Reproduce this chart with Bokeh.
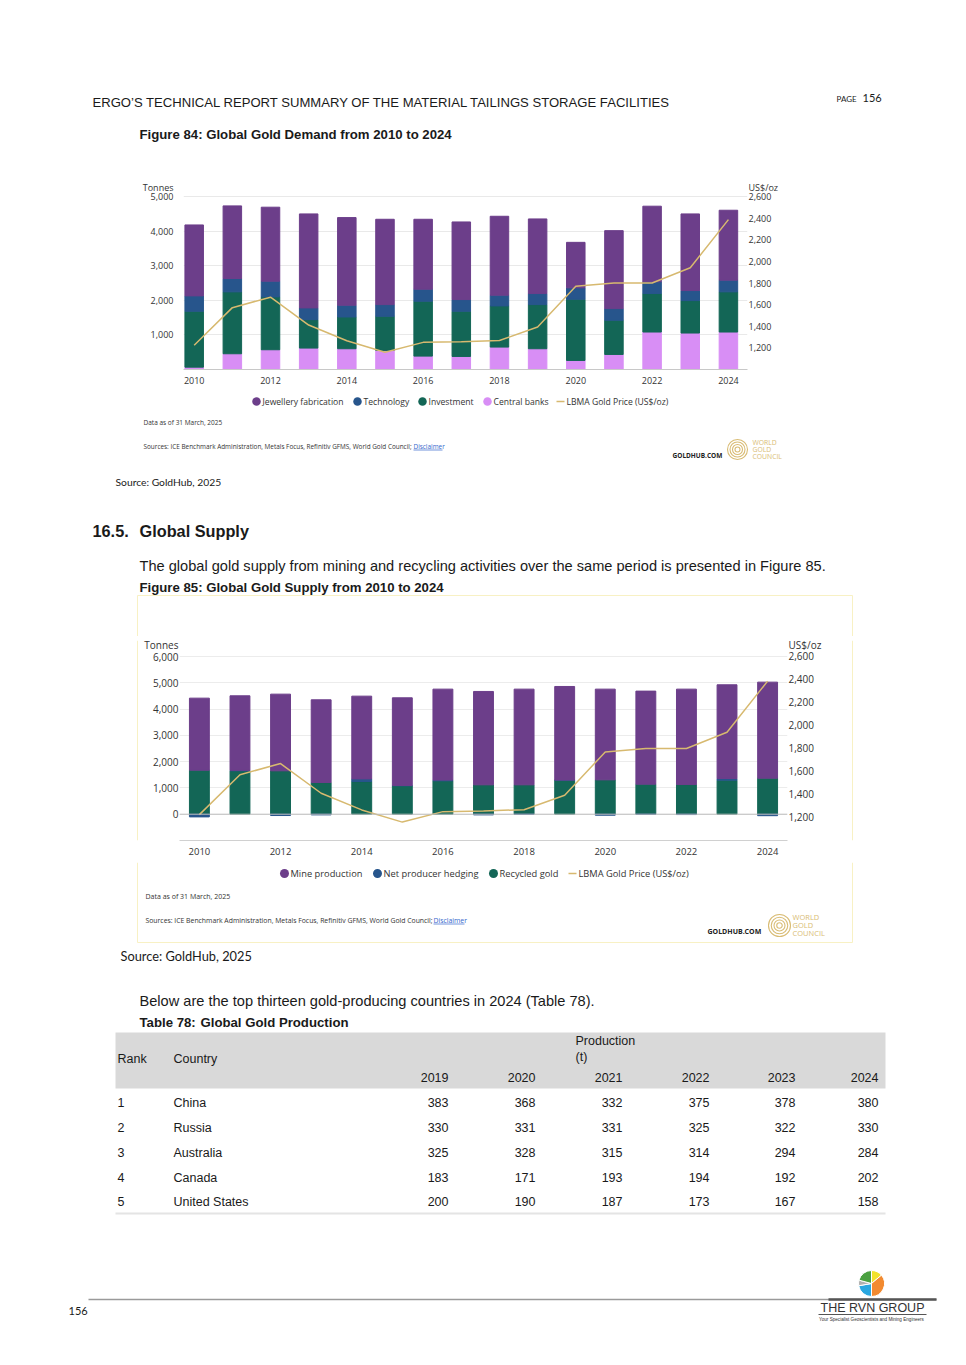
import numpy as np
from bokeh.plotting import figure
from bokeh.models import (Range1d, LinearAxis, FixedTicker, NumeralTickFormatter,
                          Label, Span, ColumnDataSource)
from bokeh.layouts import column, row
from bokeh.embed import file_html
from bokeh.resources import INLINE

# ---------------- data ----------------
years = list(range(2010, 2025))
year_ticks = [2010, 2012, 2014, 2016, 2018, 2020, 2022, 2024]

# Figure 84 - demand (tonnes)
jewellery = [2050, 2099, 2138, 2717, 2534, 2466, 2021, 2244, 2282, 2157, 1315, 2254, 2186, 2215, 2021]
technology = [445, 386, 454, 339, 339, 338, 348, 338, 309, 319, 329, 338, 339, 290, 338]
investment = [1615, 1789, 1528, 822, 918, 987, 1586, 1306, 1190, 1276, 1770, 987, 1112, 938, 1161]
central_banks = [68, 455, 571, 619, 600, 551, 387, 377, 648, 600, 261, 435, 1083, 1054, 1083]
# LBMA gold price (US$/oz)
lbma_price = [1225, 1572, 1669, 1411, 1266, 1160, 1251, 1257, 1268, 1393, 1770, 1799, 1800, 1941, 2386]

# Figure 85 - supply (tonnes)
mine_production = [2741, 2835, 2918, 3147, 3148, 3335, 3460, 3553, 3642, 3561, 3452, 3541, 3630, 3565, 3655]
net_hedging = [-102, 20, -50, -25, 100, 15, 30, -25, -10, 5, -38, -5, -13, 65, -56]
recycled_gold = [1675, 1650, 1650, 1206, 1244, 1079, 1269, 1117, 1117, 1294, 1307, 1142, 1129, 1294, 1370]

demand_left_ticks = [1000, 2000, 3000, 4000, 5000]
supply_left_ticks = [0, 1000, 2000, 3000, 4000, 5000, 6000]
price_ticks = [1200, 1400, 1600, 1800, 2000, 2200, 2400, 2600]
left_unit = "Tonnes"
right_unit = "US$/oz"

# Table 78
table_years = ["2019", "2020", "2021", "2022", "2023", "2024"]
table_rank = ["1", "2", "3", "4", "5"]
table_country = ["China", "Russia", "Australia", "Canada", "United States"]
prod_2019 = [383, 330, 325, 183, 200]
prod_2020 = [368, 331, 328, 171, 190]
prod_2021 = [332, 331, 315, 193, 187]
prod_2022 = [375, 325, 314, 194, 173]
prod_2023 = [378, 322, 294, 192, 167]
prod_2024 = [380, 330, 284, 202, 158]

# ---------------- style ----------------
JEW = "#6c3e8a"
TECH = "#27558c"
INV = "#136656"
CB = "#d88ef5"
GOLD = "#d7b96f"
WGC = "#d9bc74"
YEL = "#f8f1c4"
SANS = "Liberation Sans"
OS = "Open Sans"
TXT = "#1a1a1a"
CHT = "#333333"
W = 966


def page_fig(y0, y1, x0=0, x1=W):
    p = figure(width=int(x1 - x0), height=int(y1 - y0),
               x_range=Range1d(x0, x1), y_range=Range1d(y1, y0),
               output_backend="svg", toolbar_location=None,
               x_axis_type=None, y_axis_type=None, min_border=0,
               outline_line_color=None, background_fill_color="white",
               border_fill_color="white")
    return p


def txt(p, x, y, s, size, font=SANS, color=TXT, bold=False, align="left", baseline="middle"):
    p.add_layout(Label(x=x, y=y, text=s, text_font=font, text_font_size=f"{size}px",
                       text_color=color, text_font_style="bold" if bold else "normal",
                       text_align=align, text_baseline=baseline))


def style_axis(ax, size, standoff):
    ax.major_label_text_font = OS
    ax.major_label_text_font_size = size
    ax.major_label_text_color = CHT
    ax.major_tick_line_color = None
    ax.minor_tick_line_color = None
    ax.major_tick_out = 0
    ax.major_tick_in = 0
    ax.minor_tick_out = 0
    ax.minor_tick_in = 0
    ax.major_label_standoff = standoff
    ax.axis_line_color = None


def unit_axis(ax, ticks, unit_pos, unit_text):
    # value axis whose top-most label carries the unit name
    ax.ticker = FixedTicker(ticks=ticks + [unit_pos])
    ax.formatter = NumeralTickFormatter(format="0,0")
    ax.major_label_overrides = {unit_pos: unit_text}


def legend_item(p, x, y, color, label, size, dot, line=False):
    if line:
        p.segment(x0=[x - 4], y0=[y], x1=[x + 4], y1=[y], line_color=GOLD, line_width=1.5)
    else:
        p.scatter([x], [y], size=dot, fill_color=color, line_color=None)
    txt(p, x + 6, y, label, size, font=OS, color=CHT)


def wgc_logo(p, cx, cy, r, tx, ty, dy, size):
    p.circle(x=[cx] * 4, y=[cy] * 4, radius=[r * 0.25, r * 0.5, r * 0.75, r],
             fill_color=None, line_color=WGC, line_width=1.1)
    for i, w in enumerate(["WORLD", "GOLD", "COUNCIL"]):
        txt(p, tx, ty + i * dy, w, size, font=OS, color=WGC)


# ---------------- T0: header (y 0..180) ----------------
t0 = page_fig(0, 180)
txt(t0, 92, 102, "ERGO\u2019S TECHNICAL REPORT SUMMARY OF THE MATERIAL TAILINGS STORAGE FACILITIES", 13.1)
txt(t0, 836, 98.5, "PAGE", 8, font="Lato")
txt(t0, 862, 97.5, "156", 11, font="Lato")
txt(t0, 139, 134, "Figure 84:  Global Gold Demand from 2010 to 2024", 13.2, bold=True)

# ---------------- C1: demand chart (y 180..392) ----------------
# frame y 182..369 ; 5000 t at y 196 ; 0 at y 369
c1 = figure(width=W, height=212, x_range=Range1d(2009.72, 2024.5), y_range=Range1d(0, 5405),
            output_backend="svg", toolbar_location=None,
            min_border_left=183, min_border_right=W - 747, min_border_top=2, min_border_bottom=23,
            outline_line_color=None, background_fill_color="white", border_fill_color="white")
c1.extra_y_ranges = {"price": Range1d(1000, 2729.5)}
src1 = ColumnDataSource(dict(year=years, cb=central_banks, inv=investment,
                             tech=technology, jew=jewellery))
c1.vbar_stack(["cb", "inv", "tech", "jew"], x="year", width=0.485, source=src1,
              color=[CB, INV, TECH, JEW])
c1.line(years, lbma_price, y_range_name="price", line_color=GOLD, line_width=1.5)
style_axis(c1.yaxis[0], "9px", 10)
unit_axis(c1.yaxis[0], demand_left_ticks, 5289, left_unit)
c1.ygrid[0].ticker = FixedTicker(ticks=demand_left_ticks)
c1.ygrid[0].grid_line_color = "#e9e9e9"
c1.xgrid[0].visible = False
style_axis(c1.xaxis[0], "9px", 7)
c1.xaxis[0].ticker = FixedTicker(ticks=year_ticks)
c1.xaxis[0].axis_line_color = "#c8c8c8"
ra1 = LinearAxis(y_range_name="price")
style_axis(ra1, "9px", 1)
unit_axis(ra1, price_ticks, 2692, right_unit)
c1.add_layout(ra1, "right")

# ---------------- T1 (y 392..636) ----------------
t1 = page_fig(392, 636)
ly = 401
legend_item(t1, 256, ly, JEW, "Jewellery fabrication", 8.6, 8.5)
legend_item(t1, 357, ly, TECH, "Technology", 8.6, 8.5)
legend_item(t1, 422, ly, INV, "Investment", 8.6, 8.5)
legend_item(t1, 487, ly, CB, "Central banks", 8.6, 8.5)
legend_item(t1, 560, ly, GOLD, "LBMA Gold Price (US$/oz)", 8.6, 8.5, line=True)
txt(t1, 143, 422, "Data as of 31 March, 2025", 6.5, font=OS, color=CHT)
txt(t1, 143, 446, "Sources: ICE Benchmark Administration, Metals Focus, Refinitiv GFMS, World Gold Council;", 6.4, font=OS, color=CHT)
txt(t1, 413, 446, "Disclaimer", 6.4, font=OS, color="#3366cc")
t1.segment(x0=[413], y0=[449.5], x1=[442], y1=[449.5], line_color="#3366cc", line_width=0.7)
txt(t1, 672, 455, "GOLDHUB.COM", 6.5, font=OS, color="#222222", bold=True)
wgc_logo(t1, 737, 449, 10, 752, 441.5, 7, 6.8)
txt(t1, 115, 481, "Source: GoldHub, 2025", 10.3, font="Lato", color=TXT)
txt(t1, 92, 530, "16.5.", 16.3, bold=True)
txt(t1, 139, 530, "Global Supply", 16.3, bold=True)
txt(t1, 139, 565, "The global gold supply from mining and recycling activities over the same period is presented in Figure 85.", 14.6)
txt(t1, 139, 587, "Figure 85:  Global Gold Supply from 2010 to 2024", 13.2, bold=True)
t1.segment(x0=[137, 137, 852], y0=[595, 595, 595], x1=[852, 137, 852], y1=[595, 636, 636],
           line_color=YEL, line_width=1)

# ---------------- C2: supply chart in a row with side strips (y 636..862) ----------------
# frame y 640..840 ; 6000 t at y 656 ; -1000 at y 840
c2 = figure(width=713, height=226, x_range=Range1d(2009.51, 2024.49), y_range=Range1d(-1000, 6609),
            output_backend="svg", toolbar_location=None,
            min_border_left=41, min_border_right=64, min_border_top=4, min_border_bottom=22,
            outline_line_color=None, background_fill_color="white", border_fill_color="white")
c2.extra_y_ranges = {"price": Range1d(1000, 2739)}
rec = np.array(recycled_gold, dtype=float)
hed = np.array(net_hedging, dtype=float)
mine = np.array(mine_production, dtype=float)
hed_bottom = np.where(hed > 0, rec, hed)
hed_top = np.where(hed > 0, rec + hed, 0)
mine_bottom = rec + np.maximum(hed, 0)
src2 = ColumnDataSource(dict(year=years, rec=rec, hb=hed_bottom, ht=hed_top,
                             mb=mine_bottom, mt=mine_bottom + mine))
c2.vbar(x="year", bottom=0, top="rec", width=0.49, source=src2, color=INV)
c2.vbar(x="year", bottom="hb", top="ht", width=0.49, source=src2, color=TECH)
c2.vbar(x="year", bottom="mb", top="mt", width=0.49, source=src2, color=JEW)
c2.add_layout(Span(location=0, dimension="width", line_color="#bdbdbd", line_width=1))
c2.line(years, lbma_price, y_range_name="price", line_color=GOLD, line_width=1.5)
style_axis(c2.yaxis[0], "10px", 1)
unit_axis(c2.yaxis[0], supply_left_ticks, 6419, left_unit)
c2.ygrid[0].ticker = FixedTicker(ticks=supply_left_ticks)
c2.ygrid[0].grid_line_color = "#ececec"
c2.xgrid[0].visible = False
style_axis(c2.xaxis[0], "9.5px", 7)
c2.xaxis[0].ticker = FixedTicker(ticks=year_ticks)
c2.xaxis[0].axis_line_color = "#d0d0d0"
ra2 = LinearAxis(y_range_name="price")
style_axis(ra2, "10px", 1)
unit_axis(ra2, price_ticks, 2696, right_unit)
c2.add_layout(ra2, "right")

l2 = page_fig(636, 862, 0, 138)
l2.segment(x0=[137], y0=[636], x1=[137], y1=[862], line_color=YEL, line_width=1)
r2 = page_fig(636, 862, 851, W)
r2.segment(x0=[852], y0=[636], x1=[852], y1=[862], line_color=YEL, line_width=1)

# ---------------- T2 (y 862..1365) ----------------
t2 = page_fig(862, 1365)
t2.segment(x0=[137, 852, 137], y0=[862, 862, 942], x1=[137, 852, 852], y1=[942, 942, 942],
           line_color=YEL, line_width=1)
ly2 = 873
legend_item(t2, 284, ly2, JEW, "Mine production", 9.3, 9)
legend_item(t2, 377, ly2, TECH, "Net producer hedging", 9.3, 9)
legend_item(t2, 493, ly2, INV, "Recycled gold", 9.3, 9)
legend_item(t2, 572, ly2, GOLD, "LBMA Gold Price (US$/oz)", 9.3, 9, line=True)
txt(t2, 145, 896, "Data as of 31 March, 2025", 7, font=OS, color=CHT)
txt(t2, 145, 920, "Sources: ICE Benchmark Administration, Metals Focus, Refinitiv GFMS, World Gold Council;", 6.85, font=OS, color=CHT)
txt(t2, 433, 920, "Disclaimer", 6.85, font=OS, color="#3366cc")
t2.segment(x0=[433], y0=[923.5], x1=[464], y1=[923.5], line_color="#3366cc", line_width=0.7)
txt(t2, 707, 931, "GOLDHUB.COM", 7, font=OS, color="#222222", bold=True)
wgc_logo(t2, 779, 925, 11, 792, 916, 8, 7.5)
txt(t2, 120, 955, "Source: GoldHub, 2025", 12.8, font="Lato", color=TXT)
txt(t2, 139, 1000, "Below are the top thirteen gold-producing countries in 2024 (Table 78).", 14.6)
txt(t2, 139, 1022, "Table 78:", 13.2, bold=True)
txt(t2, 200, 1022, "Global Gold Production", 13.2, bold=True)

# table
t2.quad(left=[115], right=[885], top=[1032], bottom=[1088], fill_color="#d9d9d9", line_color=None)
txt(t2, 117, 1058, "Rank", 12.5)
txt(t2, 173, 1058, "Country", 12.5)
txt(t2, 575, 1040, "Production", 12.5)
txt(t2, 575, 1056, "(t)", 12.5)
col_x = [448, 535, 622, 709, 795, 878]
for cx, yr in zip(col_x, table_years):
    txt(t2, cx, 1077, yr, 12.5, align="right")
row_y = [1102, 1127, 1152, 1177, 1201]
cols = [prod_2019, prod_2020, prod_2021, prod_2022, prod_2023, prod_2024]
for i, ry in enumerate(row_y):
    txt(t2, 117, ry, table_rank[i], 12.5)
    txt(t2, 173, ry, table_country[i], 12.5)
    for cx, colv in zip(col_x, cols):
        txt(t2, cx, ry, str(colv[i]), 12.5, align="right")
t2.segment(x0=[115], y0=[1213], x1=[885], y1=[1213], line_color="#e4e4e4", line_width=2)

# footer
t2.segment(x0=[88], y0=[1299], x1=[936], y1=[1299], line_color="#9a9a9a", line_width=1.5)
t2.segment(x0=[828], y0=[1299], x1=[936], y1=[1299], line_color="#555555", line_width=2.5)
txt(t2, 68, 1310, "156", 11, font="Lato", color=TXT)
wedges = [(40, 90, "#f2e22a"), (-90, 40, "#f28a30"), (190, 270, "#2aa7e0"),
          (165, 190, "#b0b0b0"), (90, 165, "#4aa040")]
for a0, a1, col in wedges:
    t2.wedge(x=[871], y=[1283], radius=13, start_angle=np.deg2rad(a0), end_angle=np.deg2rad(a1),
             fill_color=col, line_color="white", line_width=1)
txt(t2, 872, 1307, "THE RVN GROUP", 12.5, color="#333333", align="center")
t2.segment(x0=[818], y0=[1314], x1=[926], y1=[1314], line_color="#555555", line_width=1)
txt(t2, 871, 1318.5, "Your Specialist Geoscientists and Mining Engineers", 4.6, color="#333333", align="center")

layout = column(row(t0), row(c1), row(t1), row(l2, c2, r2), row(t2))
open("out.html", "w").write(file_html(layout, INLINE, title="Global Gold Demand and Supply"))
